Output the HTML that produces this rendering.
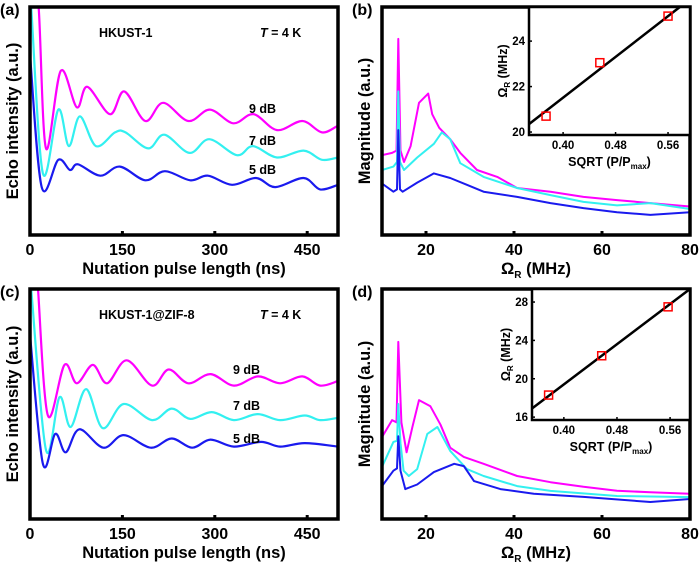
<!DOCTYPE html>
<html><head><meta charset="utf-8">
<style>
html,body{margin:0;padding:0;background:#fff;}
svg{display:block;font-family:"Liberation Sans",Arial,sans-serif;font-weight:bold;}
</style></head>
<body>
<svg id="fig" width="700" height="568" viewBox="0 0 700 568" xmlns="http://www.w3.org/2000/svg"></svg>
<script>
// ---------- Panel (a) data: nutation pulse length (ns) vs echo intensity (a.u.) ----------
const aMagT = [6,14,26,50,76,93,130,153,187,216,257,292,330,363,401,442,474,500];
const aMagV = [100,100,38,72,56,65,53,63,50,58,50,55,49,53,46,50,45,48];
const aCyaT = [2,21,46,63,81,107,138,155,192,218,259,291,336,362,401,444,474,500];
const aCyaV = [100,27,55,39,52,39,45,45,38,44,36,42,35,39,34,37,33,34];
const aBluT = [0,19,46,65,78,114,146,187,219,260,289,328,367,398,444,471,500];
const aBluV = [79,21,33,28.5,31,26,30,24,28,24,26,22,25,21,25,20,22];
// ---------- Panel (c) data ----------
const cMagT = [13,29,56,76,102,125,157,198,225,257,293,331,370,406,442,471,500];
const cMagV = [100,45,67,59,67,59,69,58,65,59,63,58,62,59,62,58,60];
const cCyaT = [2,26,48,66,91,118,152,198,230,260,295,331,370,406,446,471,500];
const cCyaV = [100,30,53,40,56.5,39.5,50,43,48,43.5,46.5,43,45.6,43,45,43,44];
const cBluT = [0,21,41,58,80,119,152,196,230,263,293,331,375,406,446,500];
const cBluV = [80,24,37,29,39,31,36.5,31,35,31,34.5,31.5,33.5,31.5,33,31.5];
// ---------- Panel (b) data: frequency (MHz) vs magnitude ----------
const bMagF = [10,12.3,13.3,13.7,14.2,15,16.5,18.4,20.5,21.4,23,25.5,27.8,31.6,36.2,40.7,48.3,55.8,63.4,71,80];
const bMagV = [35,36,37,86,37,32,39,58,62,53,47,42,36,28.5,25.5,20.6,19,16.7,15.3,14,12.5];
const bCyaF = [10,12.6,13.4,13.7,14.1,15,18,21.8,23.6,25.5,27.8,33.1,40.7,48.3,55.8,63.4,71,80];
const bCyaV = [28.5,30,32,63,32,28.5,34,40,45,42,31.5,25.5,20.6,17.5,14.5,13,14,11.4];
const bBluF = [10,12.6,13.4,13.7,14.1,14.7,18,21.8,25.5,29.3,33.1,40.7,48.3,55.8,63.4,71,80];
const bBluV = [22.6,19,20,46,20,19,23,27,25,22,19,16.7,14,11.8,10,8.8,10];
// ---------- Panel (d) data ----------
const dMagF = [10,12.3,13.3,13.7,14.4,15.6,16.9,18.4,21,23.3,25.5,28.6,33.1,40.7,48.3,55.8,63.4,71,80];
const dMagV = [35.6,43,42,77,42,29,40,51.7,49,41,31,27,24,18.7,16,14,12.3,11.6,11];
const dCyaF = [10,12.6,13.4,13.7,14.2,14.9,16.1,18,20.3,22.6,25.5,29.3,33.1,40.7,48.3,63.4,80];
const dCyaV = [22.6,33.5,34,50,33,21,18.7,21.7,37,40,29.6,21.7,18.7,14.3,12.2,10,9.5];
const dBluF = [10,12.6,13.4,13.7,14.2,15.3,18,21.8,26.4,28.6,30.9,36.9,44.5,55.8,71,80];
const dBluV = [14.3,21,22,36,21,13,15,20.4,24,23,16.5,13,11,9.6,7.4,8.7];
// ---------- Insets: sqrt(P/Pmax) vs Rabi frequency ----------
const bInsX = [0.374,0.456,0.56];
const bInsY = [20.7,23.05,25.1];
const bFitX = [0.348,0.578];
const bFitY = [20.35,25.5];
const dInsX = [0.377,0.457,0.557];
const dInsY = [18.3,22.4,27.5];
const dFitX = [0.352,0.59];
const dFitY = [16.9,29.36];
const tTicks = [0,150,300,450];
const fTicks = [20,40,60,80];
const insXTicks = ["0.40","0.48","0.56"];
const bInsYTicks = [20,22,24];
const dInsYTicks = [16,20,24,28];

const NS="http://www.w3.org/2000/svg";
const svg=document.getElementById('fig');
function el(tag,attrs,parent,txt){const e=document.createElementNS(NS,tag);for(const k in attrs)e.setAttribute(k,attrs[k]);if(txt!==undefined)e.textContent=txt;(parent||svg).appendChild(e);return e;}
const COL={m:'#ff00ff',c:'#33f0f0',b:'#1a1aee'};

function smoothPath(pts){
  let d='M'+pts[0][0].toFixed(1)+','+pts[0][1].toFixed(1);
  const k=1/6;
  for(let i=0;i<pts.length-1;i++){
    const p0=pts[Math.max(0,i-1)],p1=pts[i],p2=pts[i+1],p3=pts[Math.min(pts.length-1,i+2)];
    const c1=[p1[0]+(p2[0]-p0[0])*k,p1[1]+(p2[1]-p0[1])*k];
    const c2=[p2[0]-(p3[0]-p1[0])*k,p2[1]-(p3[1]-p1[1])*k];
    d+=' C'+c1[0].toFixed(1)+','+c1[1].toFixed(1)+' '+c2[0].toFixed(1)+','+c2[1].toFixed(1)+' '+p2[0].toFixed(1)+','+p2[1].toFixed(1);
  }
  return d;
}

function panel(o){
  const g=el('g',{});
  
  
  const sx=v=>o.x0+(v-o.xmin)/(o.xmax-o.xmin)*(o.x1-o.x0);
  const sy=v=>o.y1-(v/100)*(o.y1-o.y0);
  const cid='clip'+o.name;
  const cp=el('clipPath',{id:cid},g);
  el('rect',{x:o.x0,y:o.y0,width:o.x1-o.x0,height:o.y1-o.y0},cp);
  const sg=el('g',{'clip-path':'url(#'+cid+')'},g);
  o.series.forEach(s=>{
    const pts=s.x.map((v,i)=>[sx(v),sy(s.y[i])]);
    let p;
    if(o.smooth) p=el('path',{d:smoothPath(pts),fill:'none',stroke:COL[s.c],'stroke-width':2.2,'stroke-linejoin':'round'},sg);
    else p=el('polyline',{points:pts.map(q=>q[0].toFixed(1)+','+q[1].toFixed(1)).join(' '),fill:'none',stroke:COL[s.c],'stroke-width':2,'stroke-linejoin':'round'},sg);
    
    
  });
  const fr=el('rect',{x:o.x0,y:o.y0,width:o.x1-o.x0,height:o.y1-o.y0,fill:'none',stroke:'#000','stroke-width':3.5},g);
  
  
  o.ticks.forEach(t=>{
    el('line',{x1:sx(t),x2:sx(t),y1:o.y1,y2:o.y1-4,stroke:'#000','stroke-width':3},g);
    const tl=el('text',{x:sx(t),y:o.y1+20,'text-anchor':'middle','font-size':16},g,String(t));
    
    
  });
  const xt=el('text',{x:(o.x0+o.x1)/2,y:o.y1+39,'text-anchor':'middle','font-size':16.5},g);
  
  
  if(o.omega){xt.textContent='Ω';el('tspan',{'font-size':10,dy:4},xt,'R');el('tspan',{dy:-4},xt,' (MHz)');}
  else xt.textContent='Nutation pulse length (ns)';
  const yt=el('text',{x:0,y:0,'text-anchor':'middle','font-size':16.5,transform:'translate('+(o.x0-12)+','+((o.y0+o.y1)/2)+') rotate(-90)'},g,o.ytitle);
  
  
  const pl=el('text',{x:o.x0-30,y:o.y0+8,'font-size':16},g,o.label);
  
  
  return {g,sx,sy};
}
function inset(o,g){
  const sx=v=>o.x0+(v-o.xmin)/(o.xmax-o.xmin)*(o.x1-o.x0);
  const sy=v=>o.y1-(v-o.ymin)/(o.ymax-o.ymin)*(o.y1-o.y0);
  const ig=el('g',{},g);
  
  
  el('rect',{x:o.x0,y:o.y0,width:o.x1-o.x0,height:o.y1-o.y0,fill:'#fff',stroke:'#000','stroke-width':2.5},ig);
  const fl=el('line',{x1:sx(o.fx[0]),y1:sy(o.fy[0]),x2:sx(o.fx[1]),y2:sy(o.fy[1]),stroke:'#000','stroke-width':2.5},ig);
  
  
  o.px.forEach((v,i)=>{
    const r=el('rect',{x:sx(v)-4,y:sy(o.py[i])-4,width:8,height:8,fill:'none',stroke:'#ff0000','stroke-width':1.5},ig);
    
    
  });
  insXTicks.forEach(t=>{
    const v=parseFloat(t);
    el('line',{x1:sx(v),x2:sx(v),y1:o.y1,y2:o.y1-3,stroke:'#000','stroke-width':1.5},ig);
    const tl=el('text',{x:sx(v),y:o.y1+14,'text-anchor':'middle','font-size':11.5},ig,t);
    
    
  });
  o.yt.forEach(t=>{
    el('line',{x1:o.x0,x2:o.x0+3,y1:sy(t),y2:sy(t),stroke:'#000','stroke-width':1.5},ig);
    const tl=el('text',{x:o.x0-4,y:sy(t)+4,'text-anchor':'end','font-size':11.5},ig,String(t));
    
    
  });
  const xt=el('text',{x:(o.x0+o.x1)/2,y:o.y1+31,'text-anchor':'middle','font-size':12.5},ig,'SQRT (P/P');
  el('tspan',{'font-size':8,dy:3},xt,'max');
  el('tspan',{dy:-3},xt,')');
  
  
  const yt=el('text',{x:0,y:0,'text-anchor':'middle','font-size':12.5,transform:'translate('+(o.x0-22)+','+((o.y0+o.y1)/2)+') rotate(-90)'},ig,'Ω');
  el('tspan',{'font-size':8,dy:3},yt,'R');
  el('tspan',{dy:-3},yt,' (MHz)');
  
  
}
function txt(g,x,y,s,name,size){const t=el('text',{x:x,y:y,'font-size':size||12.5},g,s);return t;}

// Panel a
let A=panel({name:'panel-a',label:'(a)',smooth:true,x0:30,x1:338,y0:7,y1:235,xmin:0,xmax:500,ticks:tTicks,ytitle:'Echo intensity (a.u.)',
 series:[{x:aMagT,y:aMagV,c:'m',n:'series-9db'},{x:aCyaT,y:aCyaV,c:'c',n:'series-7db'},{x:aBluT,y:aBluV,c:'b',n:'series-5db'}]});
txt(A.g,99,37,'HKUST-1','sample-label');
const ta=txt(A.g,260,37,'','temperature-label');el('tspan',{'font-style':'italic'},ta,'T');el('tspan',{},ta,' = 4 K');
txt(A.g,249,113,'9 dB','label-9db');txt(A.g,249,145,'7 dB','label-7db');txt(A.g,249,174,'5 dB','label-5db');
// Panel c
let C=panel({name:'panel-c',label:'(c)',smooth:true,x0:30,x1:338,y0:289,y1:519,xmin:0,xmax:500,ticks:tTicks,ytitle:'Echo intensity (a.u.)',
 series:[{x:cMagT,y:cMagV,c:'m',n:'series-9db'},{x:cCyaT,y:cCyaV,c:'c',n:'series-7db'},{x:cBluT,y:cBluV,c:'b',n:'series-5db'}]});
txt(C.g,99,319,'HKUST-1@ZIF-8','sample-label');
const tc=txt(C.g,260,319,'','temperature-label');el('tspan',{'font-style':'italic'},tc,'T');el('tspan',{},tc,' = 4 K');
txt(C.g,233,374,'9 dB','label-9db');txt(C.g,233,410,'7 dB','label-7db');txt(C.g,233,443,'5 dB','label-5db');
// Panel b
let B=panel({name:'panel-b',label:'(b)',x0:382,x1:690,y0:7,y1:235,xmin:10,xmax:80,ticks:fTicks,omega:true,ytitle:'Magnitude (a.u.)',
 series:[{x:bMagF,y:bMagV,c:'m',n:'series-9db'},{x:bCyaF,y:bCyaV,c:'c',n:'series-7db'},{x:bBluF,y:bBluV,c:'b',n:'series-5db'}]});
inset({x0:529,x1:690,y0:7,y1:135,xmin:0.348,xmax:0.5935,ymin:19.87,ymax:25.5,px:bInsX,py:bInsY,fx:bFitX,fy:bFitY,yt:bInsYTicks},B.g);
// Panel d
let D=panel({name:'panel-d',label:'(d)',x0:382,x1:690,y0:289,y1:519,xmin:10,xmax:80,ticks:fTicks,omega:true,ytitle:'Magnitude (a.u.)',
 series:[{x:dMagF,y:dMagV,c:'m',n:'series-9db'},{x:dCyaF,y:dCyaV,c:'c',n:'series-7db'},{x:dBluF,y:dBluV,c:'b',n:'series-5db'}]});
inset({x0:532,x1:690,y0:289,y1:420,xmin:0.352,xmax:0.59,ymin:15.7,ymax:29.36,px:dInsX,py:dInsY,fx:dFitX,fy:dFitY,yt:dInsYTicks},D.g);
</script>
</body></html>
